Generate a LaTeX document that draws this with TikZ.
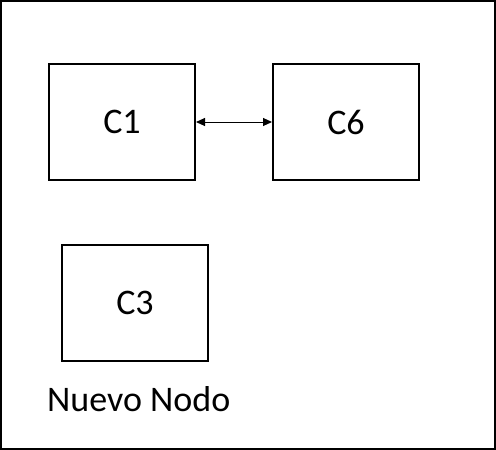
\documentclass[tikz,border=0pt]{standalone}
\usepackage{fontspec}
\setmainfont{Carlito}
\usetikzlibrary{shapes,arrows.meta,positioning,calc}

\begin{document}
\begin{tikzpicture}[x=1pt, y=-1pt, node distance=76pt,
    cbox/.style={draw, rectangle, line width=2pt, minimum width=146pt, minimum height=116pt, font=\fontsize{36}{42}\selectfont}]
    \draw[line width=2pt] (1,1) rectangle (495,449);
    \node[cbox] (c1) at (122,122) {C1};
    \node[cbox, right=76pt of c1] (c6) {C6};
    \node[cbox] (c3) at (135,303) {C3};
    \node[anchor=base west, inner sep=0pt, font=\fontsize{36}{42}\selectfont] (nuevo) at (47,411) {Nuevo Nodo};
    
    \draw[{Triangle[length=9pt,width=8pt]}-{Triangle[length=9pt,width=8pt]}, line width=1pt] (c1) -- (c6);
\end{tikzpicture}
\end{document}
